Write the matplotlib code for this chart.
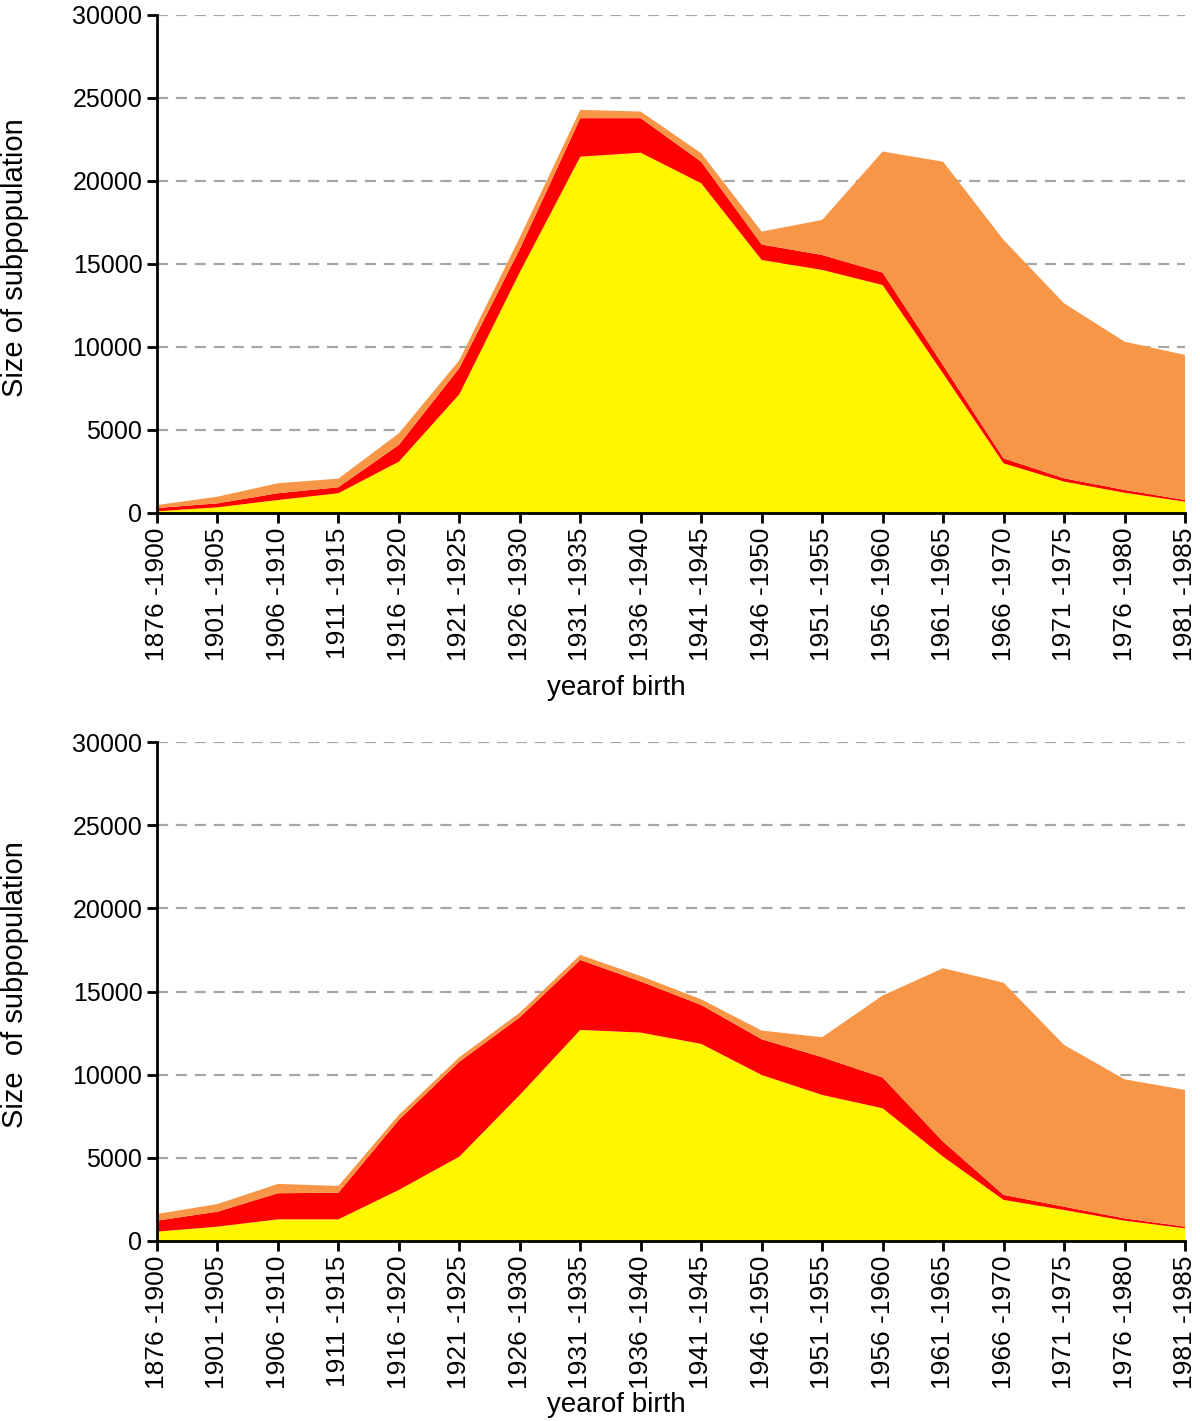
import numpy as np
import matplotlib
matplotlib.use('Agg')
import matplotlib.pyplot as plt
from matplotlib.ticker import MultipleLocator

plt.rcParams['font.family'] = ['Liberation Sans', 'DejaVu Sans']

# birth cohorts (x axis)
cohorts = ['1876 -1900', '1901 -1905', '1906 -1910', '1911 -1915', '1916 -1920',
           '1921 -1925', '1926 -1930', '1931 -1935', '1936 -1940', '1941 -1945',
           '1946 -1950', '1951 -1955', '1956 -1960', '1961 -1965', '1966 -1970',
           '1971 -1975', '1976 -1980', '1981 -1985']

# top panel, stacked layers (bottom -> top)
top_yellow = [100, 340, 780, 1190, 3090, 7150, 14500, 21460, 21700, 19860,
              15240, 14640, 13730, 8400, 2990, 1890, 1220, 680]
top_red = [200, 240, 410, 360, 1010, 1580, 1400, 2320, 2080, 1300,
           930, 900, 750, 500, 300, 200, 170, 100]
top_orange = [180, 400, 600, 520, 700, 470, 700, 500, 400, 510,
              780, 2110, 7290, 12260, 13160, 10540, 8930, 8740]

# bottom panel, stacked layers (bottom -> top)
bot_yellow = [560, 860, 1300, 1300, 3070, 5070, 8780, 12690, 12530, 11850,
              9980, 8780, 7980, 5070, 2470, 1860, 1220, 760]
bot_red = [660, 900, 1570, 1600, 4210, 5710, 4670, 4210, 3070, 2340,
           2150, 2270, 1850, 900, 300, 200, 140, 100]
bot_orange = [400, 460, 560, 410, 300, 270, 280, 300, 330, 340,
              520, 1200, 4930, 10430, 12760, 9730, 8360, 8220]

layer_colors = ['#FFF700', '#FF0000', '#F79646']


def draw_panel(ax, yellow, red, orange):
    x = np.arange(len(cohorts))
    ax.stackplot(x, yellow, red, orange, colors=layer_colors, linewidth=0, zorder=3)

    ax.set_xlim(0, len(cohorts) - 1)
    ax.set_ylim(0, 30000)
    ax.yaxis.set_major_locator(MultipleLocator(5000))
    ax.set_xticks(x)
    ax.set_xticklabels(cohorts, rotation=90, fontsize=19)
    ax.tick_params(axis='y', labelsize=18)
    ax.tick_params(which='major', direction='out', length=7, width=2, color='black')

    ax.yaxis.grid(True, color='#A6A6A6', linestyle=(0, (5, 3.5)), linewidth=1.6, zorder=1)
    ax.set_axisbelow(True)

    for side in ['top', 'right']:
        ax.spines[side].set_visible(False)
    for side in ['left', 'bottom']:
        ax.spines[side].set_linewidth(2)
        ax.spines[side].set_zorder(5)


fig = plt.figure(figsize=(12, 14.21), dpi=100)
ax1 = fig.add_axes([0.1308, 0.639, 0.8567, 0.3505])
ax2 = fig.add_axes([0.1308, 0.1267, 0.8567, 0.3511])

draw_panel(ax1, top_yellow, top_red, top_orange)
draw_panel(ax2, bot_yellow, bot_red, bot_orange)

# axis titles placed as in the original layout
fig.text(0.514, 1 - 688 / 1421, 'yearof birth', fontsize=20, ha='center', va='center')
fig.text(0.514, 1 - 1405 / 1421, 'yearof birth', fontsize=20, ha='center', va='center')
fig.text(15 / 1200, 1 - 258 / 1421, 'Size of subpopulation', fontsize=21,
         rotation=90, ha='center', va='center')
fig.text(15 / 1200, 1 - 985 / 1421, 'Size  of subpopulation', fontsize=21,
         rotation=90, ha='center', va='center')

fig.savefig('out.png', dpi=100)
